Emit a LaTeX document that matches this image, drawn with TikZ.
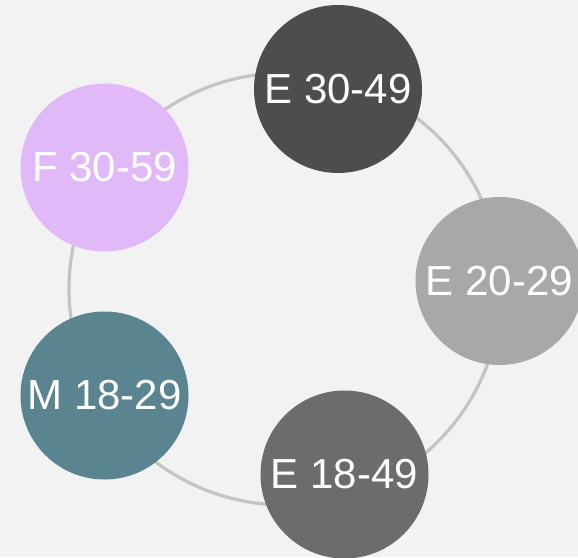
\documentclass[tikz,border=0pt]{standalone}
\usepackage{fontspec}
\setmainfont{Liberation Sans}
\usetikzlibrary{positioning}

\definecolor{bgc}{HTML}{F2F2F2}
\definecolor{ringc}{HTML}{C4C4C4}
\definecolor{darkc}{HTML}{4D4D4D}
\definecolor{midc}{HTML}{6C6C6C}
\definecolor{lightc}{HTML}{A8A8A8}
\definecolor{tealc}{HTML}{5A8490}
\definecolor{lilac}{HTML}{E1B9F8}

\begin{document}
\begin{tikzpicture}[x=1pt,y=-1pt,
every node/.style={circle,minimum size=168pt,inner sep=0pt,text=white,
font=\fontsize{42}{50}\selectfont},
group/.style={fill=#1}]
\fill[bgc] (0,0) rectangle (578,557);
\useasboundingbox (0,0) rectangle (578,557);
\coordinate (hub) at (285,289);
\draw[ringc,line width=3.2pt] (hub) circle (216);
\node[group=darkc] (E3049) at (338,89) {E 30-49};
\node[group=lilac] (F3059) at (104.5,167.5) {F 30-59};
\node[group=lightc] (E2029) at (499.5,281) {E 20-29};
\node[group=tealc] (M1829) at (104.5,395.5) {M 18-29};
\node[group=midc] (E1849) at (344.5,474.5) {E 18-49};
\end{tikzpicture}
\end{document}
